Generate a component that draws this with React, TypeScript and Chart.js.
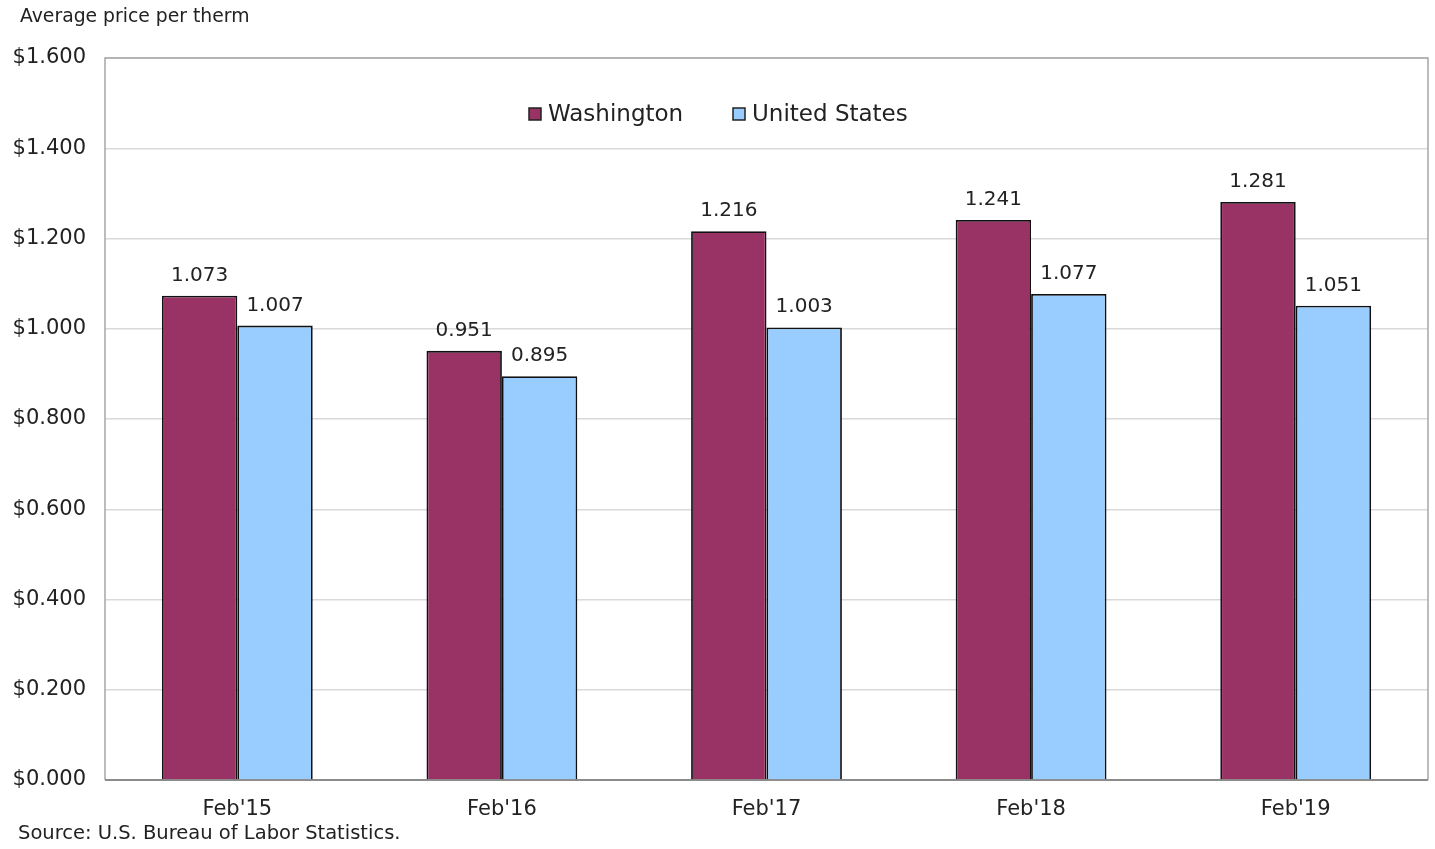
import React, { useEffect, useRef } from "react";
import { Chart, registerables } from "chart.js";

Chart.register(...registerables);

const categories = ["Feb'15", "Feb'16", "Feb'17", "Feb'18", "Feb'19"];
const washington = [1.073, 0.951, 1.216, 1.241, 1.281];
const unitedStates = [1.007, 0.895, 1.003, 1.077, 1.051];
const seriesNames = ["Washington", "United States"];
const seriesColors = ["#993366", "#99CCFF"];
const yTitle = "Average price per therm";
const sourceText = "Source: U.S. Bureau of Labor Statistics.";

const FONT = "'DejaVu Sans', Arial, sans-serif";

const decorPlugin = {
  id: "decor",
  beforeDatasetsDraw(chart: any) {
    const { ctx, chartArea: a } = chart;
    ctx.save();
    ctx.strokeStyle = "#a6a6a6";
    ctx.lineWidth = 1.5;
    ctx.beginPath();
    ctx.moveTo(a.left, a.bottom);
    ctx.lineTo(a.left, a.top);
    ctx.lineTo(a.right, a.top);
    ctx.lineTo(a.right, a.bottom);
    ctx.stroke();
    ctx.strokeStyle = "#8c8c8c";
    ctx.lineWidth = 2;
    ctx.beginPath();
    ctx.moveTo(a.left, a.bottom);
    ctx.lineTo(a.right, a.bottom);
    ctx.stroke();
    ctx.restore();
  },
  afterDatasetsDraw(chart: any) {
    const { ctx } = chart;
    ctx.save();
    // value labels
    ctx.fillStyle = "#222";
    ctx.font = `20px ${FONT}`;
    ctx.textAlign = "center";
    ctx.textBaseline = "alphabetic";
    chart.data.datasets.forEach((ds: any, i: number) => {
      const meta = chart.getDatasetMeta(i);
      meta.data.forEach((bar: any, j: number) => {
        ctx.fillText(ds.data[j].toFixed(3), bar.x, bar.y - 15);
      });
    });
    // legend
    ctx.font = `23px ${FONT}`;
    ctx.textAlign = "left";
    ctx.textBaseline = "middle";
    const ly = 114;
    const items = [
      { x: 529, label: seriesNames[0], color: seriesColors[0] },
      { x: 733, label: seriesNames[1], color: seriesColors[1] },
    ];
    items.forEach((it) => {
      ctx.fillStyle = it.color;
      ctx.fillRect(it.x, ly - 6, 12, 12);
      ctx.strokeStyle = "#222";
      ctx.lineWidth = 1.5;
      ctx.strokeRect(it.x, ly - 6, 12, 12);
      ctx.fillStyle = "#222";
      ctx.fillText(it.label, it.x + 19, ly + 1);
    });
    // title and source
    ctx.font = `18.8px ${FONT}`;
    ctx.fillStyle = "#222";
    ctx.textBaseline = "middle";
    ctx.fillText(yTitle, 20, 17);
    ctx.font = `19.5px ${FONT}`;
    ctx.fillText(sourceText, 18, 834);
    ctx.restore();
  },
};

export default function App() {
  const ref = useRef<HTMLCanvasElement | null>(null);
  useEffect(() => {
    if (!ref.current) return;
    const chart = new Chart(ref.current, {
      type: "bar",
      data: {
        labels: categories,
        datasets: [
          {
            label: seriesNames[0],
            data: washington,
            backgroundColor: seriesColors[0],
            borderColor: "#111",
            borderWidth: 1.8,
            categoryPercentage: 0.57,
            barPercentage: 1,
          },
          {
            label: seriesNames[1],
            data: unitedStates,
            backgroundColor: seriesColors[1],
            borderColor: "#111",
            borderWidth: 1.8,
            categoryPercentage: 0.57,
            barPercentage: 1,
          },
        ],
      },
      options: {
        animation: false,
        responsive: false,
        maintainAspectRatio: false,
        layout: { padding: { top: 58, right: 7, left: 0, bottom: 0 } },
        plugins: {
          legend: { display: false },
          tooltip: { enabled: false },
          title: { display: false },
        },
        scales: {
          x: {
            grid: { display: false, drawTicks: false },
            border: { display: false },
            ticks: { color: "#222", font: { size: 21, family: FONT }, padding: 17 },
            afterFit: (s: any) => {
              s.height = 69;
            },
          },
          y: {
            min: 0,
            max: 1.6,
            grid: { color: "#d9d9d9", lineWidth: 1.5, drawTicks: false },
            border: { display: false },
            ticks: {
              stepSize: 0.2,
              color: "#222",
              font: { size: 21, family: FONT },
              padding: 19,
              callback: (v: any) => "$" + Number(v).toFixed(3),
            },
            afterFit: (s: any) => {
              s.width = 105;
            },
          },
        },
      },
      plugins: [decorPlugin],
    });
    return () => chart.destroy();
  }, []);
  return (
    <div style={{ position: "fixed", left: 0, top: 0, width: 1435, height: 849, background: "#fff" }}>
      <canvas ref={ref} width={1435} height={849} style={{ width: 1435, height: 849 }} />
    </div>
  );
}
